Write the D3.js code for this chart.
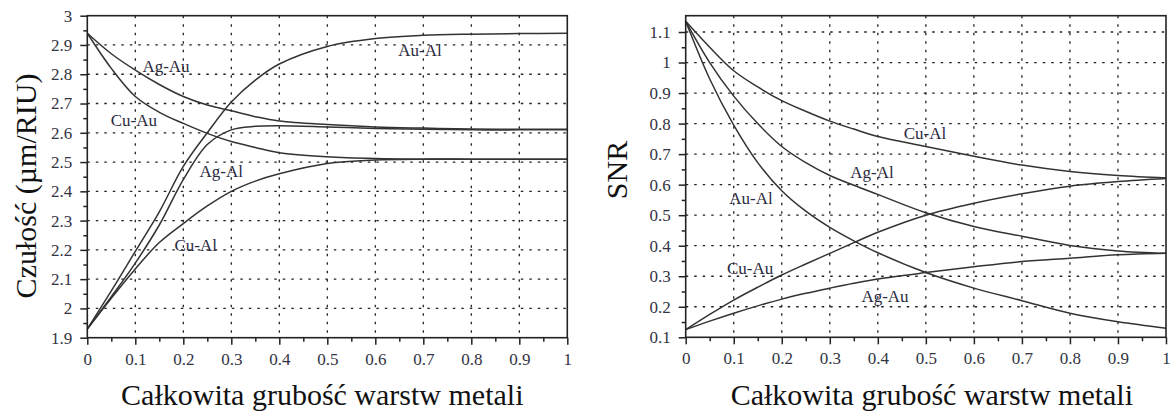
<!DOCTYPE html>
<html>
<head>
<meta charset="utf-8">
<script src="https://cdn.jsdelivr.net/npm/d3@7"></script>
<style>
  body { margin: 0; background: #fff; }
  text { font-family: "Liberation Serif", "DejaVu Serif", serif; }
</style>
</head>
<body>
<div id="chart"></div>
<script>
//Total metal layer thickness (x values shared by every curve)
var thickness = [0, 0.05, 0.1, 0.15, 0.2, 0.25, 0.3, 0.35, 0.4, 0.5, 0.6, 0.7, 0.8, 0.9, 1];

//Sensitivity (um/RIU), left panel
var sensAuAl = [1.93, 2.06, 2.195, 2.33, 2.485, 2.60, 2.705, 2.78, 2.835, 2.895, 2.922, 2.933, 2.937, 2.939, 2.94];
var sensAgAl = [1.93, 2.04, 2.155, 2.285, 2.44, 2.56, 2.61, 2.622, 2.624, 2.62, 2.615, 2.612, 2.61, 2.61, 2.61];
var sensCuAl = [1.93, 2.035, 2.135, 2.225, 2.29, 2.35, 2.40, 2.435, 2.46, 2.495, 2.507, 2.51, 2.51, 2.51, 2.51];
var sensAgAu = [2.94, 2.87, 2.814, 2.765, 2.724, 2.695, 2.675, 2.655, 2.64, 2.628, 2.62, 2.616, 2.613, 2.612, 2.612];
var sensCuAu = [2.94, 2.82, 2.724, 2.67, 2.632, 2.598, 2.57, 2.55, 2.532, 2.518, 2.512, 2.51, 2.51, 2.51, 2.51];

//SNR, right panel
var snrCuAl = [1.135, 1.05, 0.973, 0.92, 0.875, 0.84, 0.808, 0.782, 0.758, 0.725, 0.693, 0.664, 0.643, 0.63, 0.622];
var snrAgAl = [1.135, 1.0, 0.89, 0.80, 0.725, 0.672, 0.63, 0.598, 0.568, 0.508, 0.463, 0.431, 0.401, 0.383, 0.375];
var snrAuAl = [1.135, 0.946, 0.795, 0.672, 0.58, 0.513, 0.46, 0.416, 0.377, 0.312, 0.261, 0.22, 0.179, 0.151, 0.13];
var snrCuAu = [0.125, 0.175, 0.222, 0.264, 0.304, 0.34, 0.375, 0.41, 0.444, 0.5, 0.539, 0.57, 0.595, 0.61, 0.62];
var snrAgAu = [0.125, 0.153, 0.179, 0.203, 0.225, 0.244, 0.261, 0.277, 0.291, 0.312, 0.331, 0.348, 0.359, 0.37, 0.375];

//Tick labels
var xTicks = [0, 0.1, 0.2, 0.3, 0.4, 0.5, 0.6, 0.7, 0.8, 0.9, 1];
var sensTicks = [1.9, 2, 2.1, 2.2, 2.3, 2.4, 2.5, 2.6, 2.7, 2.8, 2.9, 3];
var snrTicks = [0.1, 0.2, 0.3, 0.4, 0.5, 0.6, 0.7, 0.8, 0.9, 1, 1.1];

var xTitle = "Całkowita grubość warstw metali";

///////////////////////////////////////////////////////////////////////////
////////////////////////////// Create SVG /////////////////////////////////
///////////////////////////////////////////////////////////////////////////

var width = 1176,
    height = 416;

var svg = d3.select("#chart").append("svg")
    .attr("width", width)
    .attr("height", height);

svg.append("rect")
    .attr("width", width)
    .attr("height", height)
    .attr("fill", "#fff");

//midpoints between the major ticks, for the small ticks
function minor(ticks) {
  var m = [];
  for (var i = 0; i < ticks.length - 1; i++) m.push((ticks[i] + ticks[i+1]) / 2);
  return m;
}

function drawPanel(p) {
  var x = d3.scaleLinear().domain([0, 1]).range([p.left, p.right]);
  var y = d3.scaleLinear().domain(p.yDomain).range([p.bottom, p.top]);

  var g = svg.append("g");

  //dotted grid
  g.append("g").selectAll("line")
    .data(xTicks.slice(1, -1))
    .enter().append("line")
    .attr("x1", function(d) { return x(d); })
    .attr("x2", function(d) { return x(d); })
    .attr("y1", p.top)
    .attr("y2", p.bottom)
    .attr("stroke", "#222")
    .attr("stroke-width", 1.3)
    .attr("stroke-dasharray", "2.5,6");

  g.append("g").selectAll("line")
    .data(p.yTicks.filter(function(d) { return y(d) > p.top + 2 && y(d) < p.bottom - 2; }))
    .enter().append("line")
    .attr("x1", p.left)
    .attr("x2", p.right)
    .attr("y1", function(d) { return y(d); })
    .attr("y2", function(d) { return y(d); })
    .attr("stroke", "#222")
    .attr("stroke-width", 1.3)
    .attr("stroke-dasharray", "2.5,6");

  //curves
  var line = d3.line()
    .x(function(d) { return x(d[0]); })
    .y(function(d) { return y(d[1]); })
    .curve(d3.curveCatmullRom.alpha(0.5));

  g.append("g").selectAll("path")
    .data(p.series)
    .enter().append("path")
    .attr("d", function(s) { return line(thickness.map(function(t, i) { return [t, s.values[i]]; })); })
    .attr("fill", "none")
    .attr("stroke", "#333")
    .attr("stroke-width", 1.5);

  //curve labels
  g.append("g").selectAll("text")
    .data(p.series)
    .enter().append("text")
    .attr("x", function(s) { return x(s.label[0]); })
    .attr("y", function(s) { return y(s.label[1]); })
    .attr("dy", "0.35em")
    .attr("text-anchor", "middle")
    .style("font-size", "17px")
    .style("fill", "#2a2a40")
    .text(function(s) { return s.name; });

  //axes
  g.append("g")
    .attr("transform", "translate(0," + p.bottom + ")")
    .call(d3.axisBottom(x).tickValues(xTicks).tickSize(7).tickSizeOuter(0).tickPadding(8)
      .tickFormat(function(d) { return d; }));
  g.append("g")
    .attr("transform", "translate(0," + p.bottom + ")")
    .call(d3.axisBottom(x).tickValues(minor(xTicks)).tickSize(4).tickSizeOuter(0).tickFormat(""));

  g.append("g")
    .attr("transform", "translate(" + p.left + ",0)")
    .call(d3.axisLeft(y).tickValues(p.yTicks).tickSize(7).tickSizeOuter(0).tickPadding(8)
      .tickFormat(function(d) { return d; }));
  g.append("g")
    .attr("transform", "translate(" + p.left + ",0)")
    .call(d3.axisLeft(y).tickValues(minor(p.yTicks)).tickSize(4).tickSizeOuter(0).tickFormat(""));

  g.selectAll(".domain").remove();
  g.selectAll(".tick line").attr("stroke", "#222").attr("stroke-width", 1.5);
  g.selectAll(".tick text")
    .attr("font-family", null)
    .style("font-family", '"Liberation Serif", serif')
    .style("font-size", "17px")
    .style("fill", "#333344");

  //frame
  g.append("rect")
    .attr("x", p.left)
    .attr("y", p.top)
    .attr("width", p.right - p.left)
    .attr("height", p.bottom - p.top)
    .attr("fill", "none")
    .attr("stroke", "#222")
    .attr("stroke-width", 1.6);

  //titles
  g.append("text")
    .attr("x", (p.left + p.right) / 2 + p.xTitleShift)
    .attr("y", 405)
    .attr("text-anchor", "middle")
    .style("font-size", "30px")
    .style("fill", "#111")
    .text(xTitle);

  g.append("text")
    .attr("transform", "translate(" + p.yTitleX + "," + p.yTitleY + ") rotate(-90)")
    .attr("text-anchor", "middle")
    .style("font-size", "30px")
    .style("fill", "#111")
    .text(p.yTitle);
}

drawPanel({
  left: 87.3, right: 567.3, top: 15.7, bottom: 337.7,
  yDomain: [1.9, 3],
  yTicks: sensTicks,
  yTitle: "Czułość (µm/RIU)",
  yTitleX: 36, yTitleY: 186,
  xTitleShift: -5,
  series: [
    {name: "Au-Al", values: sensAuAl, label: [0.693, 2.883]},
    {name: "Ag-Al", values: sensAgAl, label: [0.279, 2.47]},
    {name: "Cu-Al", values: sensCuAl, label: [0.226, 2.216]},
    {name: "Ag-Au", values: sensAgAu, label: [0.164, 2.828]},
    {name: "Cu-Au", values: sensCuAu, label: [0.097, 2.644]}
  ]
});

drawPanel({
  left: 685.7, right: 1166, top: 15.7, bottom: 337.3,
  yDomain: [0.1, 1.1534],
  yTicks: snrTicks,
  yTitle: "SNR",
  yTitleX: 627, yTitleY: 170,
  xTitleShift: 6,
  series: [
    {name: "Cu-Al", values: snrCuAl, label: [0.498, 0.77]},
    {name: "Ag-Al", values: snrAgAl, label: [0.388, 0.642]},
    {name: "Au-Al", values: snrAuAl, label: [0.136, 0.557]},
    {name: "Cu-Au", values: snrCuAu, label: [0.134, 0.327]},
    {name: "Ag-Au", values: snrAgAu, label: [0.415, 0.235]}
  ]
});
</script>
</body>
</html>
